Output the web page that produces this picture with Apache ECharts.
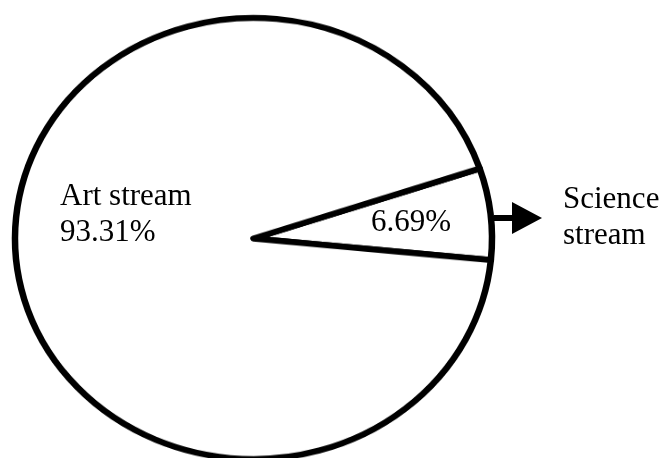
<!DOCTYPE html>
<html>
<head>
<meta charset="utf-8">
<script src="https://cdn.jsdelivr.net/npm/echarts@6/dist/echarts.min.js"></script>
<style>
html,body{margin:0;padding:0;background:#fff;}
#wrap{position:relative;width:664px;height:458px;overflow:hidden;background:#fff;}
#pie{position:absolute;left:0;top:-40px;width:664px;height:580px;transform:scaleY(0.925);transform-origin:0 278.5px;}
#labels{position:absolute;left:0;top:0;width:664px;height:458px;}
</style>
</head>
<body>
<div id="wrap">
  <div id="pie"></div>
  <div id="labels"></div>
</div>
<script>
// Data
const categories = ['Science stream', 'Art stream'];
const percentages = [6.69, 93.31];

const FONT = "'Liberation Serif', 'Times New Roman', serif";
const pieData = categories.map((c, i) => ({ name: c, value: percentages[i] }));

const radius = 238.5;
const startAngle = 18.5;

// Pie outline (drawn circular, shown slightly flattened like the scanned original)
const pieChart = echarts.init(document.getElementById('pie'), null, { renderer: 'canvas' });
pieChart.setOption({
  animation: false,
  series: [{
    type: 'pie',
    center: [253.5, 278.5],
    radius: radius,
    startAngle: startAngle,
    clockwise: true,
    silent: true,
    data: pieData,
    itemStyle: { color: '#fff', borderColor: '#000', borderWidth: 6.5, borderJoin: 'round' },
    label: { show: false },
    labelLine: { show: false }
  }]
});

// label positions (pixels)
const labelPos = {
  'Science stream': [
    { x: 411, y: 223, align: 'center' },
    { x: 563, y: 218, align: 'left' }
  ],
  'Art stream': [
    { x: 60, y: 215, align: 'left' },
    null
  ]
};

const labelChart = echarts.init(document.getElementById('labels'), null, { renderer: 'canvas' });
const labelSeries = (k, fmt) => ({
  type: 'pie',
  center: [253.5, 238.5],
  radius: radius,
  startAngle: startAngle,
  clockwise: true,
  silent: true,
  data: pieData,
  itemStyle: { color: 'rgba(0,0,0,0)', borderWidth: 0 },
  label: {
    show: true,
    position: 'inside',
    color: '#000',
    fontFamily: FONT,
    fontSize: 31,
    lineHeight: 36,
    formatter: fmt
  },
  labelLine: { show: false },
  labelLayout: p => {
    const pos = labelPos[categories[p.dataIndex]][k];
    if (!pos) return {};
    return { x: pos.x, y: pos.y, align: pos.align, verticalAlign: 'middle' };
  }
});
labelChart.setOption({
  backgroundColor: 'transparent',
  animation: false,
  series: [
    labelSeries(0, p => p.name === 'Art stream'
      ? p.name + '\n' + p.value.toFixed(2) + '%'
      : p.value.toFixed(2) + '%'),
    labelSeries(1, p => labelPos[p.name][1] ? p.name.replace(' ', '\n') : '')
  ],
  graphic: [
    { type: 'rect', shape: { x: 494, y: 215, width: 20, height: 6 }, style: { fill: '#000' }, z: 10 },
    { type: 'polygon', shape: { points: [[512, 202], [542, 218], [512, 234]] }, style: { fill: '#000' }, z: 10 }
  ]
});
</script>
</body>
</html>
